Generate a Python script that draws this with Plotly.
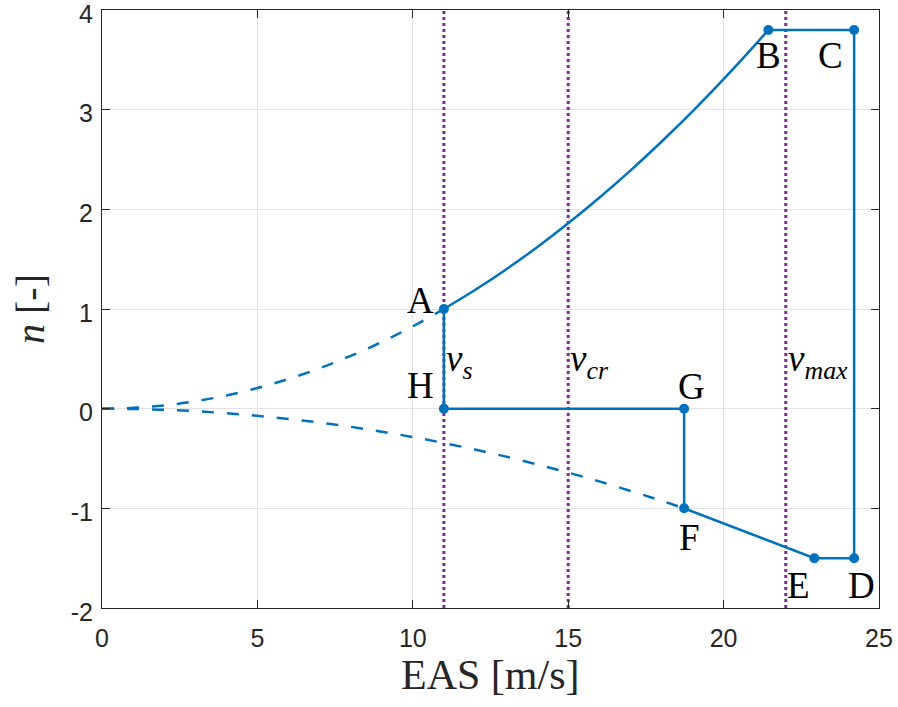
import plotly.graph_objects as go

# ---- data ----
# positive stall curve (dashed part, up to v_s)
up_dash_v = [0, 1, 2, 3, 4, 5, 6, 7, 8, 9, 10, 11]
up_dash_n = [0, 0.008, 0.033, 0.074, 0.132, 0.207, 0.298, 0.405, 0.529, 0.669, 0.826, 1.0]
# positive stall curve (solid part, A -> B)
up_solid_v = [11, 12, 13, 14, 15, 16, 17, 18, 19, 20, 21, 21.44]
up_solid_n = [1.0, 1.19, 1.397, 1.62, 1.86, 2.116, 2.388, 2.678, 2.983, 3.306, 3.645, 3.8]
# negative stall curve (dashed, 0 -> F)
lo_dash_v = [0, 2, 4, 6, 8, 10, 12, 14, 16, 18, 18.73]
lo_dash_n = [0, -0.011, -0.046, -0.103, -0.182, -0.285, -0.41, -0.559, -0.73, -0.924, -1.0]
# envelope corner points
pt_names = ["A", "B", "C", "D", "E", "F", "G", "H"]
pt_v = [11, 21.44, 24.2, 24.2, 22.92, 18.73, 18.73, 11]
pt_n = [1, 3.8, 3.8, -1.5, -1.5, -1, 0, 0]
# characteristic speeds
vline_names = ["s", "cr", "max"]
vline_v = [11, 15, 22]
x_range = [0, 25]
y_range = [-2, 4]
x_ticks = [0, 5, 10, 15, 20, 25]
x_tick_text = ["0", "5", "10", "15", "20", "25"]
y_ticks = [-2, -1, 0, 1, 2, 3, 4]
y_tick_text = ["-2", "-1", "0", "1", "2", "3", "4"]

BLUE = "#0072BD"
PURPLE = "#7E2F8E"
AX = "#262626"
SERIF = "Liberation Serif, Times New Roman, serif"

fig = go.Figure()

# vertical dotted lines (below the envelope)
for v in vline_v:
    fig.add_trace(go.Scatter(x=[v, v], y=y_range, mode="lines",
                             line=dict(color=PURPLE, width=3, dash="3px,3px"),
                             hoverinfo="skip", showlegend=False))

fig.add_trace(go.Scatter(x=up_dash_v, y=up_dash_n, mode="lines", line_shape="spline",
                         line=dict(color=BLUE, width=2.5, dash="12px,13px"), showlegend=False))
fig.add_trace(go.Scatter(x=lo_dash_v, y=lo_dash_n, mode="lines", line_shape="spline",
                         line=dict(color=BLUE, width=2.5, dash="12px,13px"), showlegend=False))
fig.add_trace(go.Scatter(x=up_solid_v, y=up_solid_n, mode="lines", line_shape="spline",
                         line=dict(color=BLUE, width=2.5), showlegend=False))

# envelope B-C-D-E-F-G-H-A
idx = [1, 2, 3, 4, 5, 6, 7, 0]
fig.add_trace(go.Scatter(x=[pt_v[i] for i in idx], y=[pt_n[i] for i in idx], mode="lines",
                         line=dict(color=BLUE, width=2.5), showlegend=False))
fig.add_trace(go.Scatter(x=pt_v, y=pt_n, mode="markers",
                         marker=dict(color=BLUE, size=10), showlegend=False))

# point labels (offsets in px)
shifts = {"A": (-23, 9), "B": (0, -26), "C": (-24, -26), "D": (7, -27),
          "E": (-16, -27), "F": (5, -29), "G": (7, 22), "H": (-23, 23)}
for name, v, n in zip(pt_names, pt_v, pt_n):
    dx, dy = shifts[name]
    fig.add_annotation(x=v, y=n, text=name, showarrow=False, xshift=dx, yshift=dy,
                       font=dict(family=SERIF, size=37, color="black"))

for name, v in zip(vline_names, vline_v):
    fig.add_annotation(x=v, y=0.47, text=f"<i>v</i><sub><i>{name}</i></sub>", showarrow=False,
                       xanchor="left", yanchor="middle", xshift=0,
                       font=dict(family=SERIF, size=37, color="black"))

# axis titles
fig.add_annotation(x=0.5, y=0, xref="paper", yref="paper", text="EAS [m/s]", showarrow=False,
                   yanchor="middle", yshift=-67, font=dict(family=SERIF, size=42, color=AX))
fig.add_annotation(x=0, y=0.5, xref="paper", yref="paper", text="<i>n</i> [-]", showarrow=False,
                   textangle=-90, xanchor="center", xshift=-72,
                   font=dict(family=SERIF, size=40, color=AX))

axis_common = dict(showline=True, linecolor=AX, linewidth=1, mirror="ticks",
                   ticks="inside", ticklen=8, tickcolor=AX, showgrid=True,
                   gridcolor="#e3e3e3", gridwidth=1, zeroline=False, automargin=False,
                   ticklabeloverflow="allow",
                   tickfont=dict(family="Liberation Sans, Arial, sans-serif", size=25, color=AX))

fig.update_xaxes(range=x_range, tickvals=x_ticks, ticktext=x_tick_text,
                 ticklabelstandoff=8, **axis_common)
fig.update_yaxes(range=y_range, tickvals=y_ticks, ticktext=y_tick_text,
                 ticklabelshift=4, ticklabelstandoff=3, **axis_common)

fig.update_layout(width=898, height=707, margin=dict(l=102, r=19, t=10, b=99),
                  plot_bgcolor="white", paper_bgcolor="white", showlegend=False)

fig.write_html("out.html", config={"displayModeBar": False},
               post_script="document.body.style.margin='0';")
